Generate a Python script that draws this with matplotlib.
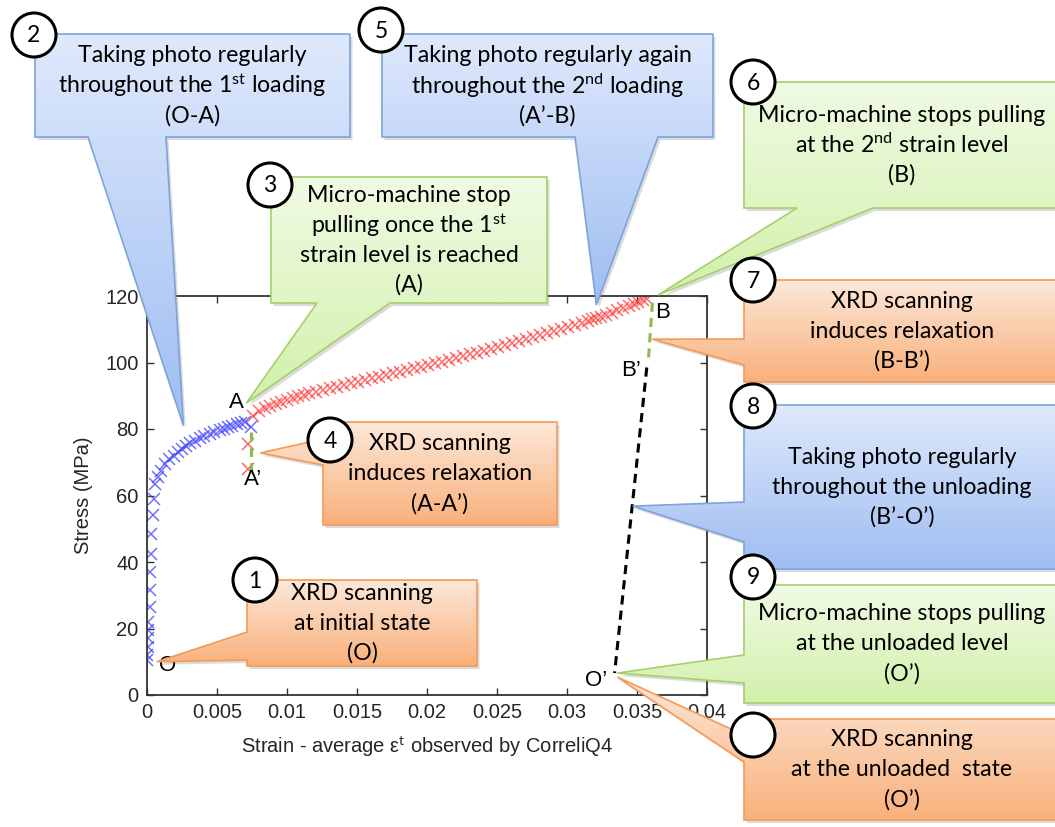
import numpy as np
import matplotlib
matplotlib.use("Agg")
import matplotlib.pyplot as plt
from matplotlib.patches import Polygon, Circle
from matplotlib.colors import LinearSegmentedColormap

# --------------------------------------------------------------------------- #
#  data
# --------------------------------------------------------------------------- #
# 1st loading O-A (blue crosses)
strain_load1 = [0.0000, 0.0000, 0.0001, 0.0001, 0.0001, 0.0001, 0.0002, 0.0002,
                0.0002, 0.0003, 0.0003, 0.0004, 0.0005, 0.0006, 0.0008, 0.0010,
                0.0013, 0.0016, 0.0019, 0.0022, 0.0025, 0.0028, 0.0031, 0.0034,
                0.0038, 0.0041, 0.0045, 0.0048, 0.0052, 0.0055, 0.0058, 0.0061,
                0.0064, 0.0067, 0.0070, 0.0074]
stress_load1 = [10.5, 12.0, 14.5, 17.0, 19.5, 22.0, 26.5, 31.5,
                37.0, 42.5, 48.5, 54.0, 59.0, 63.5, 65.5, 67.5,
                69.5, 71.0, 72.0, 73.0, 74.0, 75.0, 75.8, 76.5,
                77.3, 78.0, 78.6, 79.1, 79.6, 80.1, 80.6, 81.0,
                81.4, 81.8, 82.1, 80.6]

# relaxation at A (red crosses below A)
strain_relax_a = [0.0072, 0.0072]
stress_relax_a = [75.5, 68.0]

# 2nd loading A'-B (red crosses)
strain_load2 = [0.0076, 0.0080, 0.0084, 0.0088, 0.0092, 0.0096, 0.0100, 0.0104,
                0.0108, 0.0112, 0.0116, 0.0121, 0.0126, 0.0131, 0.0136, 0.0141,
                0.0146, 0.0151, 0.0156, 0.0161, 0.0166, 0.0171, 0.0176, 0.0181,
                0.0186, 0.0191, 0.0196, 0.0201, 0.0206, 0.0211, 0.0216, 0.0221,
                0.0226, 0.0231, 0.0236, 0.0241, 0.0246, 0.0251, 0.0256, 0.0261,
                0.0266, 0.0271, 0.0276, 0.0281, 0.0286, 0.0291, 0.0296, 0.0301,
                0.0306, 0.0311, 0.0315, 0.0318, 0.0321, 0.0324, 0.0328, 0.0332,
                0.0336, 0.0340, 0.0344, 0.0348, 0.0351, 0.0354, 0.0357]
stress_load2 = [84.0, 85.5, 86.3, 87.0, 87.6, 88.2, 88.8, 89.3,
                89.8, 90.3, 90.7, 91.2, 91.7, 92.2, 92.7, 93.2,
                93.7, 94.2, 94.7, 95.2, 95.7, 96.2, 96.7, 97.2,
                97.7, 98.2, 98.7, 99.2, 99.7, 100.3, 100.8, 101.4,
                101.9, 102.5, 103.0, 103.6, 104.1, 104.7, 105.2, 105.8,
                106.4, 107.0, 107.6, 108.2, 108.8, 109.4, 110.0, 110.6,
                111.2, 111.9, 112.5, 113.0, 113.4, 113.8, 114.4, 115.0,
                115.7, 116.4, 117.0, 117.6, 118.2, 118.7, 119.2]

# relaxation drops (green dashes) and unloading (black dashes)
drop_a_strain = [0.0074, 0.0074]
drop_a_stress = [79.0, 67.0]
drop_b_strain = [0.0361, 0.0358]
drop_b_stress = [118.0, 100.0]
unload_strain = [0.0357, 0.0334]
unload_stress = [98.5, 6.6]

# point names
point_names = ["O", "A", "A’", "B", "B’", "O’"]
point_strain = [0.0015, 0.0064, 0.0076, 0.0368, 0.0346, 0.0321]
point_stress = [9.0, 88.1, 64.7, 114.9, 97.7, 4.5]

x_ticks = [0, 0.005, 0.01, 0.015, 0.02, 0.025, 0.03, 0.035, 0.04]
x_ticklabels = ["0", "0.005", "0.01", "0.015", "0.02", "0.025", "0.03", "0.035", "0.04"]
y_ticks = [0, 20, 40, 60, 80, 100, 120]

# --------------------------------------------------------------------------- #
W, H = 1055, 827
plt.rcParams["font.family"] = ["Liberation Sans", "DejaVu Sans"]
plt.rcParams["mathtext.fontset"] = "custom"
plt.rcParams["mathtext.rm"] = "Lato"
plt.rcParams["mathtext.it"] = "Lato:italic"

fig = plt.figure(figsize=(W / 100, H / 100), dpi=100)
fig.patch.set_facecolor("white")
ax = fig.add_axes([147 / W, (H - 695) / H, (707 - 147) / W, (695 - 296) / H])

TXT = "#262626"
ax.plot(strain_load1, stress_load1, ls="none", marker="x", ms=8, mew=1.1,
        color="#4040ff", alpha=0.75)
ax.plot(strain_relax_a, stress_relax_a, ls="none", marker="x", ms=8, mew=1.1,
        color="#ff3030", alpha=0.75)
ax.plot(strain_load2, stress_load2, ls="none", marker="x", ms=8, mew=1.1,
        color="#ff3030", alpha=0.7)
ax.plot(drop_a_strain, drop_a_stress, ls=(0, (3, 2)), lw=2.2, color="#8cbc4c")
ax.plot(drop_b_strain, drop_b_stress, ls=(0, (3, 2)), lw=2.2, color="#8cbc4c")
ax.plot(unload_strain, unload_stress, ls=(0, (3, 2)), lw=2.2, color="black")
for name, sx, sy in zip(point_names, point_strain, point_stress):
    ax.text(sx, sy, name, ha="center", va="center", fontsize=16, color="black")

ax.set_xlim(0, 0.04)
ax.set_ylim(0, 120)
ax.set_xticks(x_ticks)
ax.set_xticklabels(x_ticklabels)
ax.set_yticks(y_ticks)
ax.tick_params(direction="in", top=True, right=True, length=5, width=1,
               labelsize=14.5, labelcolor=TXT, color="#333333", pad=6)
for s in ax.spines.values():
    s.set_color("#333333")
    s.set_linewidth(1.3)
ax.set_xlabel("Strain - average ε$^{\\mathrm{t}}$ observed by CorreliQ4",
              fontsize=14.5, color=TXT, labelpad=9)
ax.set_ylabel("Stress (MPa)", fontsize=14.5, color=TXT, labelpad=9)

# --------------------------------------------------------------------------- #
#  callouts, drawn in an overlay axes in pixel units (origin top-left)
# --------------------------------------------------------------------------- #
ov = fig.add_axes([0, 0, 1, 1])
ov.patch.set_visible(False)
ov.axis("off")

styles = {
    "blue": ("#dfe9fc", "#9ebdf2", "#7ea3da"),
    "green": ("#f0fbe4", "#d2f0ab", "#a6d06c"),
    "orange": ("#fde8da", "#f9b07a", "#f59a55"),
}
grad = np.linspace(0, 1, 256).reshape(-1, 1)
FONT = ["Lato", "DejaVu Sans"]


def to_px(sx, sy):
    dx, dy = ax.transData.transform((sx, sy))
    return dx, H - dy


def callout(box, side, base, tip, kind, num, circ, lines, z):
    x0, y0, x1, y1 = box
    tx, ty = to_px(*tip)
    if side == "bottom":
        pts = [(x0, y0), (x1, y0), (x1, y1), (base[1], y1), (tx, ty),
               (base[0], y1), (x0, y1)]
    else:
        pts = [(x0, y0), (x1, y0), (x1, y1), (x0, y1), (x0, base[1]), (tx, ty),
               (x0, base[0])]
    top, bot, edge_c = styles[kind]
    cmap = LinearSegmentedColormap.from_list(kind, [top, bot])
    ov.add_patch(Polygon([(px + 2.5, py + 3) for px, py in pts], closed=True,
                         fc="0.45", ec="none", alpha=0.25, zorder=z))
    edge = Polygon(pts, closed=True, fc="none", ec=edge_c, lw=1.2, zorder=z + 0.2)
    ov.add_patch(edge)
    xs = [p[0] for p in pts]
    ys = [p[1] for p in pts]
    im = ov.imshow(grad, extent=[min(xs), max(xs), max(ys), min(ys)], cmap=cmap,
                   aspect="auto", interpolation="bilinear", zorder=z + 0.1)
    im.set_clip_path(edge)
    cx = (x0 + min(x1, W + 5)) / 2
    cy = (y0 + y1) / 2
    n = len(lines)
    for i, ln in enumerate(lines):
        ov.text(cx, cy + (i - (n - 1) / 2) * 30, ln, ha="center", va="center",
                fontsize=16.7, family=FONT, color="black", zorder=z + 0.3)
    ov.add_patch(Circle(circ, 22, fc="white", ec="black", lw=2.2, zorder=z + 0.4))
    if num:
        ov.text(circ[0], circ[1] + 1, num, ha="center", va="center", fontsize=16.5,
                family=FONT, zorder=z + 0.5)


callout((247, 580, 477, 666), "left", (632, 660), (0.0007, 10.0), "orange", "1",
        (255, 580), ["XRD scanning", "at initial state", "(O)"], 10)
callout((35, 34, 350, 137), "bottom", (88, 166), (0.0026, 81.0), "blue", "2",
        (34, 35), ["Taking photo regularly",
                   "throughout the 1$^{\\mathrm{st}}$ loading", "(O-A)"], 20)
callout((271, 177, 547, 303), "bottom", (317, 390), (0.0071, 87.8), "green", "3",
        (270, 185), ["Micro-machine stop", "pulling once the 1$^{\\mathrm{st}}$",
                     "strain level is reached", "(A)"], 30)
callout((323, 422, 557, 525), "left", (439, 465), (0.0081, 72.8), "orange", "4",
        (330, 440), ["XRD scanning", "induces relaxation", "(A-A’)"], 40)
callout((382, 34, 713, 137), "bottom", (575, 658), (0.0321, 117.3), "blue", "5",
        (381, 30), ["Taking photo regularly again",
                    "throughout the 2$^{\\mathrm{nd}}$ loading", "(A’-B)"], 50)
callout((744, 82, 1060, 208), "bottom", (797, 873), (0.0365, 120.3), "green", "6",
        (753, 82), ["Micro-machine stops pulling",
                    "at the 2$^{\\mathrm{nd}}$ strain level", "(B)"], 60)
callout((744, 280, 1060, 382), "left", (339, 365), (0.0361, 107.0), "orange", "7",
        (753, 280), ["XRD scanning", "induces relaxation", "(B-B’)"], 70)
callout((744, 405, 1060, 569), "left", (502, 542), (0.0347, 56.8), "blue", "8",
        (753, 406), ["Taking photo regularly", "throughout the unloading",
                     "(B’-O’)"], 80)
callout((744, 585, 1060, 703), "left", (655, 683), (0.0336, 6.6), "green", "9",
        (753, 577), ["Micro-machine stops pulling", "at the unloaded level",
                     "(O’)"], 90)
callout((744, 719, 1060, 820), "left", (735, 762), (0.0336, 5.4), "orange", "",
        (753, 735), ["XRD scanning", "at the unloaded  state", "(O’)"], 100)

ov.set_xlim(0, W)
ov.set_ylim(H, 0)

fig.savefig("out.png", dpi=100)
